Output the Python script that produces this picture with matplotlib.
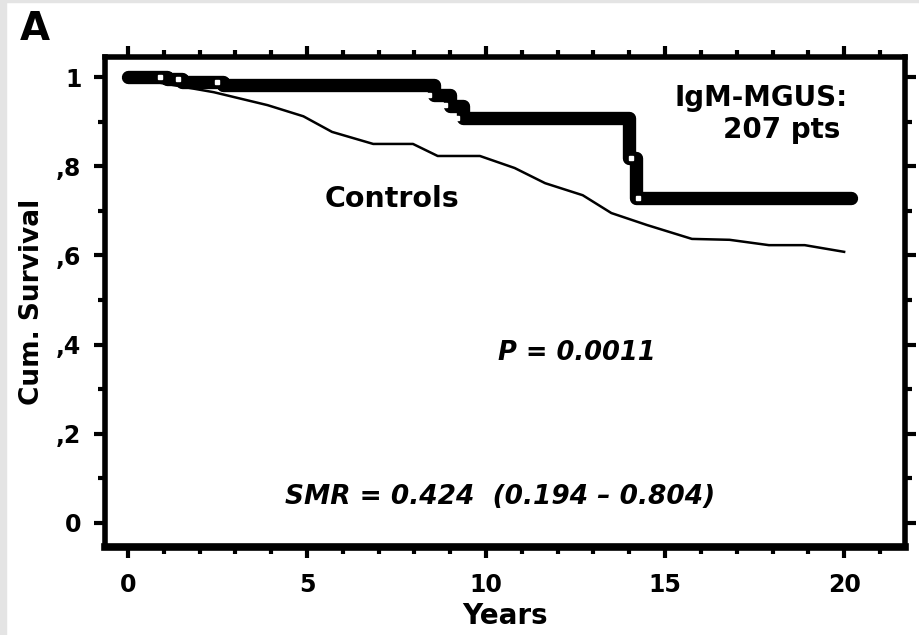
import matplotlib.pyplot as plt
from matplotlib.ticker import MultipleLocator, FixedLocator
import matplotlib.patches as mpatches

plt.rcParams['font.family'] = ['DejaVu Sans']
plt.rcParams['font.weight'] = 'bold'

# IgM-MGUS Kaplan-Meier steps (years, cumulative survival)
mgus_t = [0, 1.1, 1.5, 2.65, 8.55, 9.0, 9.35, 14.0, 14.2, 20.2]
mgus_s = [1.0, 0.995, 0.99, 0.982, 0.96, 0.935, 0.908, 0.818, 0.729, 0.729]
# sparse censored cases (open circles, the rest merge into the thick band)
cens_t = [0.9, 1.4, 2.5, 8.4, 8.85, 9.2, 14.05, 14.25]
cens_s = [1.0, 0.995, 0.99, 0.96, 0.937, 0.908, 0.818, 0.729]

# expected survival of matched controls
ctrl_t = [0, 2.4, 3.9, 4.9, 5.7, 6.85, 7.96, 8.65, 9.83, 10.8, 11.65,
          12.7, 13.5, 14.5, 15.75, 16.8, 17.9, 18.9, 20.0]
ctrl_s = [1.0, 0.966, 0.937, 0.912, 0.877, 0.85, 0.85, 0.823, 0.823, 0.796, 0.762,
          0.735, 0.695, 0.668, 0.637, 0.635, 0.623, 0.623, 0.608]

xticks = [0, 5, 10, 15, 20]
yticks = [0, 0.2, 0.4, 0.6, 0.8, 1.0]
ylabels = ['0', ',2', ',4', ',6', ',8', '1']

fig = plt.figure(figsize=(9.2, 6.35), dpi=100)
ax = fig.add_axes([105 / 920, 1 - 547 / 635, 800 / 920, 490 / 635])

# scanned page edge
fig.patches.append(mpatches.Rectangle((0, 0), 6 / 920, 1, transform=fig.transFigure,
                                      color='#e4e4e4', zorder=0))
fig.patches.append(mpatches.Rectangle((0, 1 - 2 / 635), 1, 2 / 635, transform=fig.transFigure,
                                      color='#e4e4e4', zorder=0))

ax.plot(ctrl_t, ctrl_s, color='black', lw=1.8, zorder=2)
ax.plot(mgus_t, mgus_s, color='black', lw=9.6, drawstyle='steps-post',
        solid_joinstyle='round', solid_capstyle='round', zorder=3)
ax.plot(cens_t, cens_s, ls='none', marker='s', ms=2.4, mfc='white', mec='white', zorder=4)

ax.set_xlim(-0.64, 21.7)
ax.set_ylim(-0.054, 1.045)

ax.xaxis.set_major_locator(FixedLocator(xticks))
ax.xaxis.set_minor_locator(FixedLocator(range(0, 22)))
ax.yaxis.set_major_locator(FixedLocator(yticks))
ax.yaxis.set_minor_locator(MultipleLocator(0.1))
ax.set_yticklabels(ylabels)
ax.tick_params(which='both', direction='out', top=True, right=True, width=3, labelsize=17)
ax.tick_params(axis='x', which='major', pad=11)
ax.tick_params(axis='y', which='major', pad=9)
ax.tick_params(which='major', length=8)
ax.tick_params(which='minor', length=5)
for lab in ax.get_xticklabels() + ax.get_yticklabels():
    lab.set_fontweight('bold')

for side in ['left', 'right', 'top']:
    ax.spines[side].set_linewidth(4)
ax.spines['bottom'].set_linewidth(5.5)

ax.set_xlabel('Years', fontsize=20, fontweight='bold', labelpad=3)
ax.set_ylabel('Cum. Survival', fontsize=19, fontweight='bold', labelpad=8)

ax.text(5.5, 0.726, 'Controls', fontsize=20.5, fontweight='bold', ha='left', va='center')
ax.text(20.1, 0.953, 'IgM-MGUS:', fontsize=20, fontweight='bold', ha='right', va='center')
ax.text(19.9, 0.881, '207 pts', fontsize=20, fontweight='bold', ha='right', va='center')
ax.text(12.54, 0.381, 'P = 0.0011', fontsize=18.5, fontweight='bold', style='italic',
        ha='center', va='center')
ax.text(10.4, 0.058, 'SMR = 0.424  (0.194 \u2013 0.804)', fontsize=19, fontweight='bold',
        style='italic', ha='center', va='center')

fig.text(20 / 920, 1 - 29 / 635, 'A', fontsize=28, fontweight='bold', ha='left', va='center')

fig.savefig('out.png', dpi=100)
